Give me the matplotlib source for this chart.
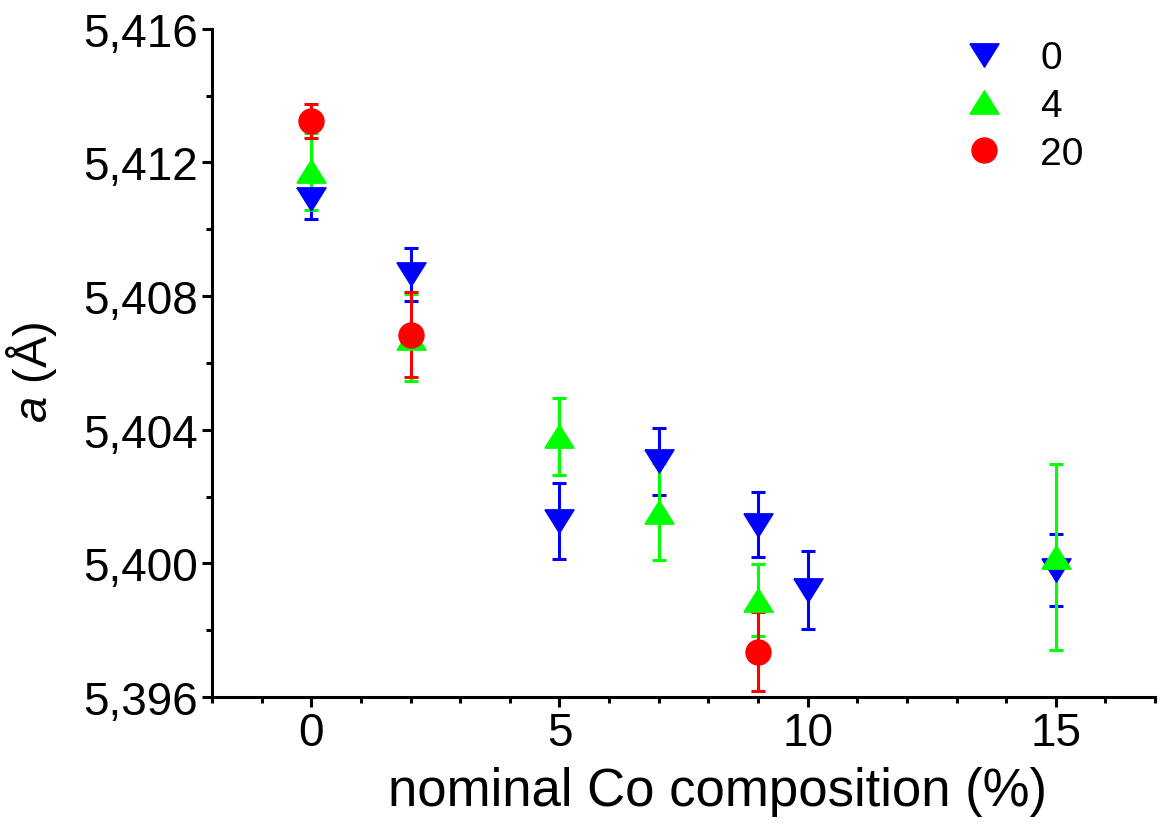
import matplotlib.pyplot as plt
import matplotlib.ticker as ticks
from matplotlib.lines import Line2D
import numpy as np

plt.rcParams['font.family'] = ['Liberation Sans', 'DejaVu Sans']
plt.rcParams['mathtext.fontset'] = 'custom'
plt.rcParams['mathtext.it'] = 'Liberation Sans:italic'
plt.rcParams['mathtext.rm'] = 'Liberation Sans'

# series "0"
x0 = [0, 2, 5, 7, 9, 10, 15]
y0 = [5.4109, 5.40865, 5.40128, 5.40305, 5.40116, 5.39921, 5.39981]
e0 = [0.0006, 0.0008, 0.00114, 0.0010, 0.00098, 0.00116, 0.00108]

# series "4"
x4 = [0, 2, 5, 7, 9, 15]
y4 = [5.41174, 5.40676, 5.4038, 5.40155, 5.39891, 5.4002]
e4 = [0.00115, 0.0013, 0.00116, 0.00145, 0.00108, 0.00278]

# series "20"
x20 = [0, 2, 9]
y20 = [5.41324, 5.40685, 5.39735]
e20 = [0.0005, 0.00128, 0.00118]

labels = ["0", "4", "20"]
colors = ['#0000ff', '#00ff00', '#ff0000']

down_tri = [(-1, 0.8), (1, 0.8), (0, -0.8), (-1, 0.8)]
up_tri = [(-1, -0.8), (1, -0.8), (0, 0.8), (-1, -0.8)]
markers = [down_tri, up_tri, 'o']
sizes = [21, 21, 18]


def comma_fmt(v, pos):
    return ("%.3f" % v).replace(".", ",")


def main():
    fig = plt.figure(figsize=(11.6, 8.28), dpi=100)
    ax = fig.add_axes([0.1828, 0.157, 0.813, 0.807])

    common = dict(linestyle='none', capsize=5, capthick=2.2, elinewidth=2.2)
    for xs, ys, es, c, m, s in zip([x0, x4, x20], [y0, y4, y20], [e0, e4, e20],
                                   colors, markers, sizes):
        ax.errorbar(xs, ys, yerr=es, color=c, marker=m, ms=s, **common)

    ax.set_xlim(-2, 17)
    ax.set_ylim(5.396, 5.416)
    ax.xaxis.set_major_locator(ticks.MultipleLocator(5))
    ax.xaxis.set_minor_locator(ticks.MultipleLocator(1))
    ax.yaxis.set_major_locator(ticks.MultipleLocator(0.004))
    ax.yaxis.set_minor_locator(ticks.MultipleLocator(0.002))
    ax.yaxis.set_major_formatter(ticks.FuncFormatter(comma_fmt))

    for s in ['top', 'right']:
        ax.spines[s].set_visible(False)
    for s in ['left', 'bottom']:
        ax.spines[s].set_linewidth(2.2)
    ax.tick_params(which='major', direction='out', length=7, width=2.2,
                   labelsize=33, pad=3)
    ax.tick_params(which='minor', direction='out', length=4, width=2.2)

    ax.set_xlabel("nominal Co composition (%)", fontsize=38)
    ax.xaxis.set_label_coords(0.5355, -0.103)
    ax.set_ylabel(r"$a$ (Å)", fontsize=34)
    ax.yaxis.set_label_coords(-0.162, 0.487)

    handles = [Line2D([], [], linestyle='none', color=c, marker=m, ms=s)
               for c, m, s in zip(colors, markers, sizes)]
    ax.legend(handles, labels, loc='upper left', frameon=False, fontsize=28,
              handletextpad=0.45, labelspacing=0.3,
              bbox_to_anchor=(0.74, 1.035))

    fig.savefig("out.png", dpi=100)


if __name__ == "__main__":
    main()
